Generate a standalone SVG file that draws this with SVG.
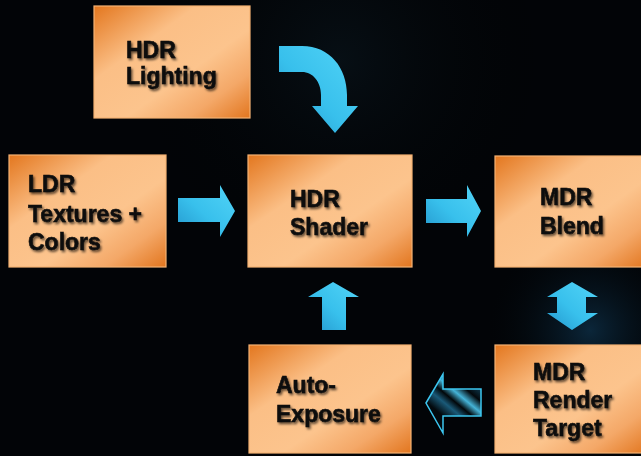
<svg xmlns="http://www.w3.org/2000/svg" width="641" height="456" viewBox="0 0 641 456">
<defs>
<style>
.box{fill:url(#boxg);stroke:#F6B273;stroke-width:1.2}
.lbl{font-family:"Liberation Sans",Arial,sans-serif;font-weight:bold;font-size:23px;fill:#0a0a0a;stroke:#0a0a0a;stroke-width:0.5;filter:url(#tsh)}
.arr{fill:url(#arrg)}
</style>
<linearGradient id="boxg" x1="0" y1="0" x2="1" y2="1">
<stop offset="0" stop-color="#E3771F"/>
<stop offset="0.33" stop-color="#FBBF86"/>
<stop offset="0.6" stop-color="#FCC48D"/>
<stop offset="0.8" stop-color="#F4A868"/>
<stop offset="1" stop-color="#E2761F"/>
</linearGradient>
<linearGradient id="arrg" x1="0" y1="1" x2="1" y2="0">
<stop offset="0" stop-color="#2396CC"/>
<stop offset="0.45" stop-color="#38C0EC"/>
<stop offset="1" stop-color="#52D4F7"/>
</linearGradient>
<linearGradient id="stripe" x1="448" y1="420" x2="476" y2="386" gradientUnits="userSpaceOnUse">
<stop offset="0" stop-color="#03090d"/>
<stop offset="0.25" stop-color="#1a5a78"/>
<stop offset="0.42" stop-color="#02070a"/>
<stop offset="0.6" stop-color="#45b4d8"/>
<stop offset="0.8" stop-color="#03090d"/>
<stop offset="1" stop-color="#0d3448"/>
</linearGradient>
<radialGradient id="glow" cx="590" cy="330" r="110" gradientUnits="userSpaceOnUse">
<stop offset="0" stop-color="#0f3550" stop-opacity="0.7"/>
<stop offset="1" stop-color="#000" stop-opacity="0"/>
</radialGradient>
<radialGradient id="glow2" cx="340" cy="60" r="220" gradientUnits="userSpaceOnUse">
<stop offset="0" stop-color="#0a161e" stop-opacity="0.6"/>
<stop offset="1" stop-color="#000" stop-opacity="0"/>
</radialGradient>
<filter id="tsh" x="-10%" y="-20%" width="130%" height="160%">
<feDropShadow dx="1.5" dy="2" stdDeviation="1.3" flood-color="#000" flood-opacity="0.6"/>
</filter>
</defs>
<rect width="641" height="456" fill="#020407"/>
<rect width="641" height="456" fill="url(#glow2)"/>
<rect width="641" height="456" fill="url(#glow)"/>

<g id="connectors">
<path id="c-lighting-shader" class="arr" d="M279,46 L302,46 C330,46 347,68 347,95 L347,106 L358,106 L335,133 L312,106 L321,106 L321,95 C321,82 313,72 302,72 L279,72 Z"/>
<path id="c-ldr-shader" class="arr" d="M178,198 L220,198 L220,185 L235,211 L220,237 L220,222 L178,222 Z"/>
<path id="c-shader-blend" class="arr" d="M426,199 L467,199 L467,185 L481,211 L467,237 L467,223 L426,223 Z"/>
<path id="c-blend-target" class="arr" d="M572,282 L598,297 L586,297 L586,313 L598,313 L572,330 L547,313 L557,313 L557,297 L547,297 Z"/>
<path id="c-auto-shader" class="arr" d="M333,282 L359,297 L346,297 L346,330 L322,330 L322,297 L308,297 Z"/>
<path id="c-target-auto" d="M426,403 L443,374 L443,389 L481,389 L481,416 L443,416 L443,433 Z" fill="url(#stripe)" stroke="#3CC6F0" stroke-width="1.5" stroke-linejoin="miter"/>
</g>

<g id="n-hdr-lighting">
<rect class="box" x="94" y="6" width="156" height="112"/>
<text class="lbl" x="126" y="58">HDR</text>
<text class="lbl" x="126" y="84">Lighting</text>
</g>
<g id="n-ldr">
<rect class="box" x="9" y="155" width="157" height="112"/>
<text class="lbl" x="28" y="192">LDR</text>
<text class="lbl" x="28" y="222">Textures +</text>
<text class="lbl" x="28" y="250">Colors</text>
</g>
<g id="n-hdr-shader">
<rect class="box" x="248" y="155" width="164" height="112"/>
<text class="lbl" x="290" y="207">HDR</text>
<text class="lbl" x="290" y="235">Shader</text>
</g>
<g id="n-mdr-blend">
<rect class="box" x="495" y="156" width="152" height="111"/>
<text class="lbl" x="540" y="205">MDR</text>
<text class="lbl" x="540" y="234">Blend</text>
</g>
<g id="n-auto-exposure">
<rect class="box" x="249" y="345" width="162" height="108"/>
<text class="lbl" x="276" y="393">Auto-</text>
<text class="lbl" x="276" y="422">Exposure</text>
</g>
<g id="n-mdr-target">
<rect class="box" x="495" y="345" width="152" height="108"/>
<text class="lbl" x="533" y="380">MDR</text>
<text class="lbl" x="533" y="408">Render</text>
<text class="lbl" x="533" y="436">Target</text>
</g>
</svg>
